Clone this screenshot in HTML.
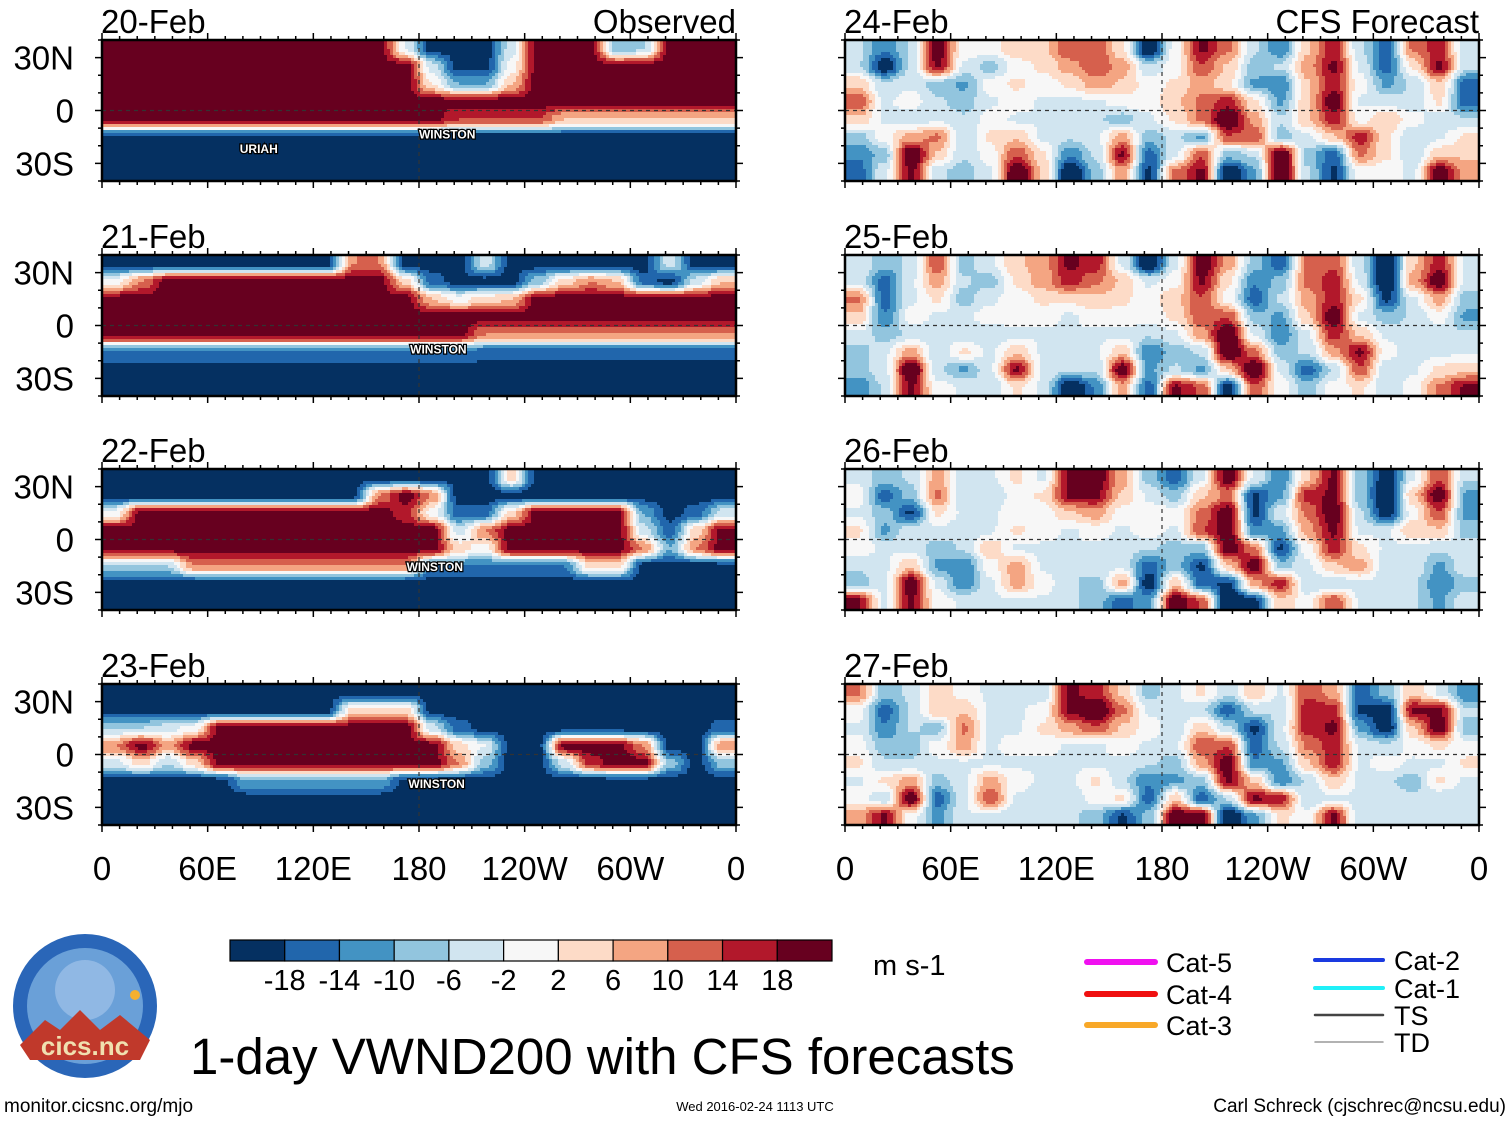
<!DOCTYPE html>
<html><head><meta charset="utf-8">
<style>
html,body{margin:0;padding:0;background:#fff;}
body{width:1510px;height:1121px;overflow:hidden;font-family:"Liberation Sans",sans-serif;}
svg text{font-family:"Liberation Sans",sans-serif;}
</style></head>
<body>
<svg id="chart" width="1510" height="1121" viewBox="0 0 1510 1121" xmlns="http://www.w3.org/2000/svg">
<g id="panels"></g>
<g id="deco"></g>
</svg>
<script>
// ---------- data ----------
const levels = [-18,-14,-10,-6,-2,2,6,10,14,18];
const colors = ["#053061","#2166ac","#4393c3","#92c5de","#d1e5f0","#f7f7f7","#fddbc7","#f4a582","#d6604d","#b2182b","#67001f"];
const lonTicks = ["0","60E","120E","180","120W","60W","0"];
const latTicks = ["30N","0","30S"];
const panelTitles = ["20-Feb","21-Feb","22-Feb","23-Feb","24-Feb","25-Feb","26-Feb","27-Feb"];
// grids: 8 rows (35N..35S) x 24 cols (lon 7.5..352.5), m/s
const obs20 = [
[20,20,20,20,20,20,20,20,20,20,20,-2,-20,-20,-20,-4,20,20,20,-10,-6,20,20,20],
[20,20,20,20,20,20,20,20,20,20,20,20,-4,-20,-20,0,20,20,20,20,20,20,20,20],
[20,20,20,20,20,20,20,20,20,20,20,20,2,-10,-10,6,20,20,20,20,20,20,20,20],
[20,20,20,20,20,20,20,20,20,20,20,20,20,20,20,20,20,20,20,20,20,20,20,20],
[20,20,20,20,20,20,20,20,20,20,20,20,20,14,14,14,14,6,6,6,6,6,6,6],
[-20,-20,-20,-20,-20,-20,-20,-20,-20,-20,-20,-20,-20,-20,-20,-20,-20,-20,-20,-20,-20,-20,-20,-20],
[-20,-20,-20,-20,-20,-20,-20,-20,-20,-20,-20,-20,-20,-20,-20,-20,-20,-20,-20,-20,-20,-20,-20,-20],
[-20,-20,-20,-20,-20,-20,-20,-20,-20,-20,-20,-20,-20,-20,-20,-20,-20,-20,-20,-20,-20,-20,-20,-20]];
const obs21 = [
[-20,-20,-20,-20,-20,-20,-20,-20,-20,10,10,-20,-20,-20,-4,-20,-20,-20,-20,-20,-20,-4,-20,-20],
[0,10,20,20,20,20,20,20,20,20,20,4,-16,-20,-20,-20,-8,4,10,6,-16,-20,-4,6],
[20,20,20,20,20,20,20,20,20,20,20,20,6,0,4,6,20,20,20,20,20,20,20,20],
[20,20,20,20,20,20,20,20,20,20,20,20,20,20,20,20,20,20,20,20,20,20,20,20],
[20,20,20,20,20,20,20,20,20,20,20,20,20,20,10,10,10,10,10,10,10,10,10,10],
[-14,-14,-14,-14,-14,-14,-14,-14,-14,-14,-14,-14,-14,-14,-16,-16,-16,-16,-16,-16,-16,-16,-16,-16],
[-20,-20,-20,-20,-20,-20,-20,-20,-20,-20,-20,-20,-20,-20,-20,-20,-20,-20,-20,-20,-20,-20,-20,-20],
[-20,-20,-20,-20,-20,-20,-20,-20,-20,-20,-20,-20,-20,-20,-20,-20,-20,-20,-20,-20,-20,-20,-20,-20]];
const obs22 = [
[-20,-20,-20,-20,-20,-20,-20,-20,-20,-20,-20,-20,-20,-20,-20,4,-20,-20,-20,-20,-20,-20,-20,-20],
[-20,-20,-20,-20,-20,-20,-20,-20,-20,-20,10,20,10,-20,-20,-20,-20,-20,-20,-20,-20,-20,-20,-20],
[0,20,20,20,20,20,20,20,20,20,20,16,0,-16,-16,4,20,20,20,20,-10,-20,-16,-4],
[20,20,20,20,20,20,20,20,20,20,20,20,20,-4,10,20,20,20,20,20,-4,-16,4,20],
[20,20,20,20,20,20,20,20,20,20,20,20,20,4,0,20,20,20,20,20,10,-10,10,20],
[-6,-6,-6,10,10,10,10,10,10,10,10,10,-14,-14,-14,-14,-14,-14,4,4,-20,-20,-20,-20],
[-20,-20,-20,-20,-20,-20,-20,-20,-20,-20,-20,-20,-20,-20,-20,-20,-20,-20,-20,-20,-20,-20,-20,-20],
[-20,-20,-20,-20,-20,-20,-20,-20,-20,-20,-20,-20,-20,-20,-20,-20,-20,-20,-20,-20,-20,-20,-20,-20]];
const obs23 = [
[-20,-20,-20,-20,-20,-20,-20,-20,-20,-20,-20,-20,-20,-20,-20,-20,-20,-20,-20,-20,-20,-20,-20,-20],
[-20,-20,-20,-20,-20,-20,-20,-20,-20,4,4,4,-20,-20,-20,-20,-20,-20,-20,-20,-20,-20,-20,-20],
[-6,-6,-4,0,20,20,20,20,20,20,20,20,-4,-16,-20,-20,-20,-20,-20,-20,-20,-20,-20,-16],
[10,20,8,20,20,20,20,20,20,20,20,20,20,4,-2,-20,-20,20,20,20,10,-20,-20,10],
[-4,4,-6,4,20,20,20,20,20,20,20,20,20,10,-8,-20,-20,-4,16,20,20,-8,-20,-8],
[-20,-20,-20,-20,-20,-10,-10,-10,-10,-10,-10,-20,-20,-20,-20,-20,-20,-20,-20,-20,-20,-20,-20,-20],
[-20,-20,-20,-20,-20,-20,-20,-20,-20,-20,-20,-20,-20,-20,-20,-20,-20,-20,-20,-20,-20,-20,-20,-20],
[-20,-20,-20,-20,-20,-20,-20,-20,-20,-20,-20,-20,-20,-20,-20,-20,-20,-20,-20,-20,-20,-20,-20,-20]];
const fc24 = [
[-4,-10,-4,16,0,0,4,4,10,10,2,-18,0,14,8,-4,-10,4,12,-4,-12,8,12,-4],
[-4,-16,-4,14,-2,-6,0,2,6,10,6,-4,0,10,4,-6,-4,6,14,-2,-12,2,14,-4],
[4,-4,-2,-6,-8,0,2,0,2,6,4,0,2,6,2,-8,-10,4,12,0,-8,-4,4,-12],
[10,-2,0,-4,-6,-2,0,-2,-2,-2,0,0,4,8,12,2,-8,4,16,-2,-2,-4,2,-12],
[4,-2,-4,-2,-4,0,-2,-2,-4,-4,-6,-2,2,8,18,6,-4,4,12,0,4,0,-4,-4],
[-6,0,6,8,-4,2,4,-2,-4,-2,6,-6,-4,-8,10,10,-6,-2,4,12,2,-4,-2,2],
[-10,-6,18,4,-4,0,10,2,-10,-4,14,-12,-2,10,-6,-4,18,-6,-12,8,2,-4,4,4],
[-12,-2,14,-4,-6,-2,18,4,-18,-6,6,-14,8,14,-18,-8,18,-4,-14,0,0,-2,16,6]];
const fc25 = [
[-2,-6,-4,10,-6,-2,4,6,14,12,-2,-18,-2,16,6,-6,-12,8,10,-4,-18,4,12,-2],
[-2,-12,-2,6,-4,-6,2,6,12,8,4,-2,0,14,2,-10,-6,8,12,-2,-18,6,16,-2],
[8,-12,-2,2,-6,-2,0,2,2,4,2,0,4,10,0,-12,-4,6,12,2,-14,-2,6,-6],
[4,-10,0,-2,-2,0,0,0,-2,0,0,0,2,10,10,-6,-8,4,16,-2,-6,-4,0,-8],
[-2,-6,-4,-2,-4,-4,-2,-2,-2,-2,-2,-4,-2,6,18,-2,-10,-2,12,4,-2,-4,-4,-4],
[-6,-2,6,-4,2,-2,4,-2,-4,-2,4,-10,-6,-4,18,8,-6,-4,6,14,0,-4,-2,-2],
[-6,-2,18,-4,-8,-2,14,-2,-4,-4,16,-8,-4,-8,4,18,-2,-12,-4,10,-4,-2,2,4],
[-10,-4,14,0,-2,-4,2,-2,-18,-10,6,-12,14,10,-16,10,0,-6,0,2,-4,0,8,14]];
const fc26 = [
[-2,-6,-4,6,-4,-2,2,-2,14,16,6,-6,-12,-2,16,-2,-10,4,14,-6,-16,-2,10,-4],
[0,-12,-6,8,-4,-4,0,2,14,14,4,-2,-6,4,8,-14,-8,12,14,-6,-18,4,16,-8],
[-2,-6,-14,2,-2,-2,0,0,4,6,0,0,0,8,16,-14,-2,8,16,-4,-16,0,10,-8],
[2,-8,-2,-2,-4,-2,2,0,-2,0,-2,0,-2,10,16,-10,-8,6,14,-2,-2,4,4,-6],
[0,-2,-2,-6,-4,4,-2,-2,-2,-2,-4,-4,-6,-6,16,8,-14,0,12,2,-2,-2,-4,-2],
[-4,-2,4,-8,-10,0,6,-2,-4,-2,-2,-12,-6,-14,4,16,-6,-2,4,6,-4,-2,-8,-2],
[-6,-2,16,-2,-10,-2,6,0,-4,-6,6,-16,4,-12,-14,6,12,-4,-4,-2,-2,-4,-10,-6],
[14,-2,14,0,-2,-2,-2,-2,-4,-6,-12,-8,16,10,-18,-14,4,0,10,-2,-2,-4,-8,-2]];
const fc27 = [
[8,-6,-4,4,0,-2,-4,-4,14,12,4,-6,-2,2,-4,4,-2,10,6,-12,-6,4,-2,-10],
[0,-12,-4,4,4,-2,-2,0,14,18,8,-2,-2,-4,-12,-4,-4,12,12,-14,-16,14,14,-4],
[-2,-10,-4,-6,8,-2,-2,2,6,10,4,0,-4,4,-4,-14,-2,12,14,-8,-16,4,16,-6],
[0,-6,-6,0,6,-2,0,0,-2,-2,0,-2,-2,10,10,-12,-4,8,12,-2,-4,0,2,0],
[2,-4,-4,-2,-2,-2,-2,-2,-2,-2,-2,-4,-6,6,16,-10,-8,4,12,-2,0,-2,-2,2],
[-2,2,6,-6,-2,6,0,-2,-2,2,-4,-10,-8,-6,14,4,-10,-4,4,-2,-4,-6,2,-2],
[0,-4,16,-12,-2,10,-2,-4,-4,0,2,-12,4,-12,-4,14,12,-4,-2,-2,-2,-4,-4,-4],
[6,14,0,-8,-2,-2,-4,-4,-4,-6,-14,-6,16,16,-18,-8,2,0,14,-4,-2,-4,-2,-2]];
const grids = [obs20,obs21,obs22,obs23,fc24,fc25,fc26,fc27];
const stormNames = [["URIAH","WINSTON"],["WINSTON"],["WINSTON"],["WINSTON"],[],[],[],[]];
const stormLon = [[89,196],[191],[189],[190],[],[],[],[]];
const stormLat = [[-24,-16],[-16],[-18],[-19],[],[],[],[]];
const legendNames = ["Cat-5","Cat-4","Cat-3","Cat-2","Cat-1","TS","TD"];
const legendColors = ["#f010f0","#f01010","#f8a828","#1a3ae0","#20f0f8","#444","#999"];

// ---------- layout ----------
const NS="http://www.w3.org/2000/svg";
function mk(tag,attrs,parent){const e=document.createElementNS(NS,tag);for(const k in attrs)e.setAttribute(k,attrs[k]);parent.appendChild(e);return e;}
const panelsG=document.getElementById('panels');
const deco=document.getElementById('deco');
const colX=[102,845], PW=634, PH=141, rowY=[40,255,469,684];
const renderGain=[1,1,1,1,1.35,1.35,1.35,1.35]; // compensates interpolation smoothing of peaks
function xScale(px,lon){return px+lon/360*PW;}
function yScale(py,lat){return py+(40-lat)/80*PH;}
function colorOf(v){let i=0;while(i<levels.length&&v>=levels[i])i++;return colors[i];}
function sm(t){return t*t*(3-2*t);}
function sample(g,lon,lat){
  let c=(lon-7.5)/15, r=(35-lat)/10;
  c=Math.max(0,Math.min(23,c)); r=Math.max(0,Math.min(7,r));
  const c0=Math.floor(c),r0=Math.floor(r),c1=Math.min(23,c0+1),r1=Math.min(7,r0+1);
  const fc=sm(c-c0),fr=sm(r-r0);
  return (g[r0][c0]*(1-fc)+g[r0][c1]*fc)*(1-fr)+(g[r1][c0]*(1-fc)+g[r1][c1]*fc)*fr;
}
for(let p=0;p<8;p++){
  const px=colX[p<4?0:1], py=rowY[p%4], g=grids[p];
  const pg=mk('g',{},panelsG);
  
  
  const step=3;
  for(let yy=0;yy<PH;yy+=step){
    const lat=40-(yy+step/2)/PH*80;
    const h=Math.min(step,PH-yy);
    let runStart=0,runCol=null;
    for(let xx=0;xx<PW;xx+=step){
      const lon=Math.min(xx+step/2,PW)/PW*360;
      const col=colorOf(sample(g,lon,lat)*renderGain[p]);
      if(col!==runCol){
        if(runCol!==null){
          const r=mk('rect',{x:px+runStart,y:py+yy,width:xx-runStart+0.5,height:h+0.5,fill:runCol},pg);
          
          
        }
        runStart=xx;runCol=col;
      }
    }
    const r=mk('rect',{x:px+runStart,y:py+yy,width:PW-runStart,height:h+0.5,fill:runCol},pg);
    
    
  }
  mk('line',{x1:px,x2:px+PW,y1:yScale(py,0),y2:yScale(py,0),stroke:'#333','stroke-width':1.2,'stroke-dasharray':'4,4'},pg);
  mk('line',{x1:xScale(px,180),x2:xScale(px,180),y1:py,y2:py+PH,stroke:'#333','stroke-width':1.2,'stroke-dasharray':'4,4'},pg);
  const fr=mk('rect',{x:px,y:py,width:PW,height:PH,fill:'none',stroke:'#000','stroke-width':2.5},pg);
  
  
  for(let lon=0;lon<=360;lon+=10){
    const x=xScale(px,lon), L=lon%60===0?7:4;
    mk('line',{x1:x,x2:x,y1:py,y2:py-L,stroke:'#000','stroke-width':1.5},pg);
    mk('line',{x1:x,x2:x,y1:py+PH,y2:py+PH+L,stroke:'#000','stroke-width':1.5},pg);
  }
  for(let lat=-40;lat<=40;lat+=10){
    const y=yScale(py,lat), L=lat%30===0?7:4;
    mk('line',{x1:px,x2:px-L,y1:y,y2:y,stroke:'#000','stroke-width':1.5},pg);
    mk('line',{x1:px+PW,x2:px+PW+L,y1:y,y2:y,stroke:'#000','stroke-width':1.5},pg);
  }
  const t=mk('text',{x:px-1,y:py-7,'font-size':33,fill:'#000'},pg);t.textContent=panelTitles[p];
  
  
  if(p%4===0){
    const h=mk('text',{x:px+PW,y:py-7,'font-size':33,'text-anchor':'end',fill:'#000'},pg);
    h.textContent=p===0?'Observed':'CFS Forecast';
    
    
  }
  if(p<4){
    [30,0,-30].forEach((lat,i)=>{
      const tl=mk('text',{x:74,y:yScale(py,lat)+12,'font-size':33,'text-anchor':'end',fill:'#000'},pg);
      tl.textContent=latTicks[i];
      
      
    });
  }
  for(let s=0;s<stormNames[p].length;s++){
    const sx=xScale(px,stormLon[p][s]), sy=yScale(py,stormLat[p][s]);
    const st=mk('text',{x:sx,y:sy,'font-size':12,'font-weight':'bold','text-anchor':'middle',fill:'#fff',stroke:'#000','stroke-width':2.5,'paint-order':'stroke'},pg);
    st.textContent=stormNames[p][s];
    
    
  }
}
[0,1].forEach(c=>{
  lonTicks.forEach((lab,i)=>{
    const tx=mk('text',{x:xScale(colX[c],i*60),y:880,'font-size':33,'text-anchor':'middle',fill:'#000'},deco);
    tx.textContent=lab;
    
    
  });
});
const cb=mk('g',{},deco);


const cbX=230,cbW=602,cbY=940,cbH=21,bw=cbW/colors.length;
colors.forEach((c,i)=>{
  const r=mk('rect',{x:cbX+i*bw,y:cbY,width:bw,height:cbH,fill:c,stroke:'#000','stroke-width':1.2},cb);
  
  
});
levels.forEach((lv,i)=>{
  const tx=mk('text',{x:cbX+(i+1)*bw,y:990,'font-size':29,'text-anchor':'middle',fill:'#000'},cb);
  tx.textContent=String(lv);
  
  
});
const un=mk('text',{x:873,y:975,'font-size':29,fill:'#000'},cb);un.textContent='m s-1';


const lg=mk('g',{},deco);


const legX=[1087,1087,1087,1315,1315,1315,1315], legY=[962,994,1025,960,988,1015,1042];
const legW=[6,6,6,4,4,2.5,1.5];
legendNames.forEach((n,i)=>{
  mk('line',{x1:legX[i],x2:legX[i]+68,y1:legY[i],y2:legY[i],stroke:legendColors[i],'stroke-width':legW[i],'stroke-linecap':'round'},lg);
  const tx=mk('text',{x:legX[i]+79,y:legY[i]+10,'font-size':27,fill:'#000'},lg);
  tx.textContent=n;
  
  
});
</script>
<svg style="position:absolute;left:0;top:0" width="1510" height="1121">
<g>
<circle cx="85" cy="1006" r="72" fill="#2a66b8"/>
<circle cx="85" cy="1006" r="58" fill="#6aa0d8"/>
<circle cx="85" cy="990" r="30" fill="#90b8e4"/>
<path d="M20 1045 L45 1020 L60 1030 L80 1010 L100 1030 L120 1015 L150 1040 L140 1060 L30 1060 Z" fill="#c0392b"/>
<circle cx="135" cy="995" r="5" fill="#f5b030"/>
<text x="85" y="1055" font-size="26" text-anchor="middle" fill="#f0e0b0" font-weight="bold">cics.nc</text>
</g>
<text x="190" y="1074" font-size="51" fill="#000">1-day VWND200 with CFS forecasts</text>
<text x="4" y="1112" font-size="19" fill="#000">monitor.cicsnc.org/mjo</text>
<text x="755" y="1111" font-size="13" text-anchor="middle" fill="#000">Wed 2016-02-24 1113 UTC</text>
<text x="1506" y="1112" font-size="19" text-anchor="end" fill="#000">Carl Schreck (cjschrec@ncsu.edu)</text>
</svg>
</body></html>
